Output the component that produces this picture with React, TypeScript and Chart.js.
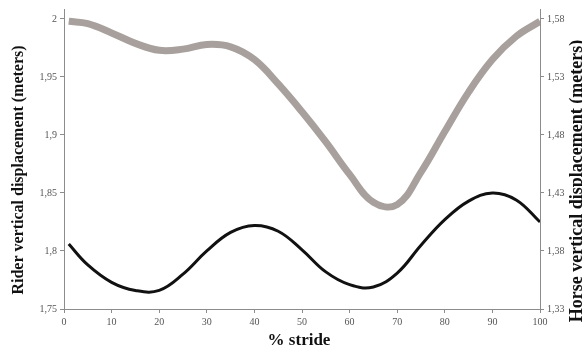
import React, { useEffect, useRef } from "react";
import { Chart, registerables } from "chart.js";

Chart.register(...registerables);

const stride = [1, 5, 10, 15, 20, 25, 30, 35, 40, 45, 50, 55, 60, 65, 70, 75, 80, 85, 90, 95, 100];
const riderValues = [1.998, 1.996, 1.988, 1.979, 1.973, 1.974, 1.978, 1.976, 1.965, 1.944, 1.92, 1.894, 1.866, 1.842, 1.84, 1.868, 1.903, 1.937, 1.965, 1.985, 1.998];
const horseValues = [1.386, 1.368, 1.353, 1.346, 1.346, 1.36, 1.38, 1.396, 1.402, 1.397, 1.381, 1.362, 1.351, 1.349, 1.361, 1.385, 1.407, 1.423, 1.43, 1.424, 1.405];
const xTicks = [0, 10, 20, 30, 40, 50, 60, 70, 80, 90, 100];
const leftTicks = [1.75, 1.8, 1.85, 1.9, 1.95, 2];
const rightTicks = [1.33, 1.38, 1.43, 1.48, 1.53, 1.58];

const leftTitle = "Rider vertical displacement (meters)";
const rightTitle = "Horse vertical displacement (meters)";
const xTitle = "% stride";

const SERIF = "'Liberation Serif', 'Times New Roman', serif";

const fmt = (v: number) => String(Math.round(v * 100) / 100).replace(".", ",");

const titlePlugin = {
  id: "customTitles",
  afterDraw(chart: any) {
    const ctx = chart.ctx;
    ctx.save();
    ctx.fillStyle = "#111";
    ctx.textAlign = "center";
    ctx.textBaseline = "middle";
    ctx.save();
    ctx.translate(19, 170);
    ctx.rotate(-Math.PI / 2);
    ctx.font = `bold 16px ${SERIF}`;
    ctx.fillText(leftTitle, 0, 0);
    ctx.restore();
    ctx.save();
    ctx.translate(577, 181);
    ctx.rotate(-Math.PI / 2);
    ctx.font = `bold 18px ${SERIF}`;
    ctx.fillText(rightTitle, 0, 0);
    ctx.restore();
    ctx.font = `bold 17px ${SERIF}`;
    ctx.fillText(xTitle, 299, 341);
    ctx.restore();
  },
};

export default function App() {
  const ref = useRef<HTMLCanvasElement | null>(null);
  useEffect(() => {
    document.body.style.margin = "0";
    const canvas = ref.current;
    if (!canvas) return;
    const tickFont = { family: SERIF, size: 10 };
    const axisColor = "#8c8c8c";
    const chart = new Chart(canvas, {
      type: "line",
      data: {
        datasets: [
          {
            label: "Rider",
            data: stride.map((x, i) => ({ x, y: riderValues[i] })),
            borderColor: "rgb(168,160,157)",
            borderWidth: 7,
            pointRadius: 0,
            tension: 0.4,
            yAxisID: "y",
          },
          {
            label: "Horse",
            data: stride.map((x, i) => ({ x, y: horseValues[i] })),
            borderColor: "#111",
            borderWidth: 3,
            pointRadius: 0,
            tension: 0.4,
            yAxisID: "y1",
          },
        ],
      },
      options: {
        responsive: false,
        animation: false,
        layout: { padding: { top: 8, left: 0, right: 0, bottom: 0 } },
        plugins: { legend: { display: false }, tooltip: { enabled: false } },
        scales: {
          x: {
            type: "linear",
            min: 0,
            max: 100,
            afterBuildTicks: (s: any) => {
              s.ticks = xTicks.map((v) => ({ value: v }));
            },
            afterFit: (s: any) => {
              s.height = 42;
            },
            ticks: { font: tickFont, color: "#555", padding: 3, maxRotation: 0 },
            grid: { drawOnChartArea: false, color: axisColor, tickLength: 4 },
            border: { color: axisColor, width: 1 },
          },
          y: {
            type: "linear",
            position: "left",
            min: 1.75,
            max: 2.0086,
            afterBuildTicks: (s: any) => {
              s.ticks = leftTicks.map((v) => ({ value: v }));
            },
            afterFit: (s: any) => {
              s.width = 64;
            },
            ticks: { font: tickFont, color: "#555", padding: 3, callback: (v: any) => fmt(Number(v)) },
            grid: { drawOnChartArea: false, color: axisColor, tickLength: 4 },
            border: { color: axisColor, width: 1 },
          },
          y1: {
            type: "linear",
            position: "right",
            min: 1.33,
            max: 1.5886,
            afterBuildTicks: (s: any) => {
              s.ticks = rightTicks.map((v) => ({ value: v }));
            },
            afterFit: (s: any) => {
              s.width = 42;
            },
            ticks: { font: tickFont, color: "#555", padding: 3, callback: (v: any) => fmt(Number(v)) },
            grid: { drawOnChartArea: false, color: axisColor, tickLength: 4 },
            border: { color: axisColor, width: 1 },
          },
        },
      },
      plugins: [titlePlugin],
    } as any);
    return () => chart.destroy();
  }, []);
  return <canvas ref={ref} width={582} height={351} style={{ display: "block" }} />;
}
